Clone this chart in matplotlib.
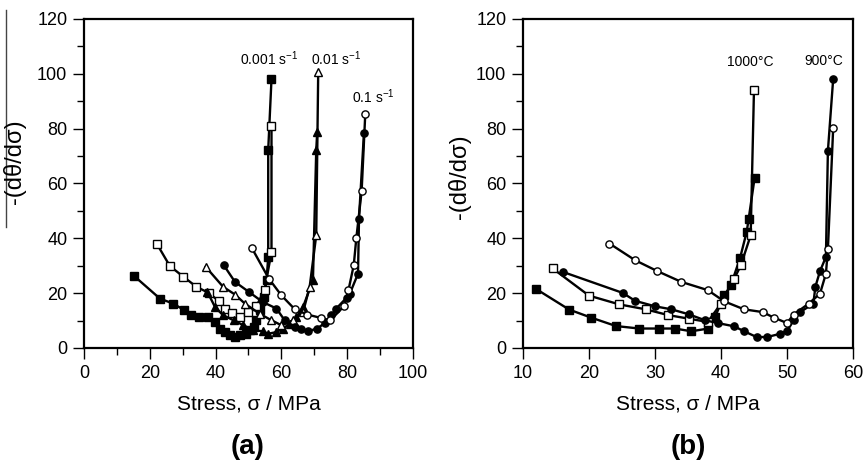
import numpy as np
import matplotlib
matplotlib.use("Agg")
import matplotlib.pyplot as plt
from matplotlib.lines import Line2D

plt.rcParams['font.family'] = ['Liberation Sans', 'DejaVu Sans']
plt.rcParams['mathtext.fontset'] = 'custom'
plt.rcParams['mathtext.rm'] = 'Liberation Sans'
plt.rcParams['mathtext.it'] = 'Liberation Sans:italic'

# ---- panel (a): strain rates ----
a_sq_fill_x = [15.3, 23.1, 27.1, 30.5, 32.5, 35.0, 37.8, 39.8, 41.3, 43.0, 44.3, 45.9, 47.4,
               49.1, 50.4, 51.6, 52.4, 53.4, 54.7, 55.5, 56.0, 56.0, 57.0]
a_sq_fill_y = [26.2, 18.0, 16.2, 13.8, 11.9, 11.3, 11.3, 9.5, 7.1, 5.8, 4.6, 4.0, 4.6,
               5.2, 6.5, 7.7, 10.1, 13.8, 18.6, 24.7, 33.2, 72.2, 98.1]
a_sq_open_x = [22.1, 26.1, 30.2, 34.2, 37.9, 41.1, 43.0, 45.1, 47.4, 49.9, 52.4, 54.9, 57.0, 57.0]
a_sq_open_y = [38.1, 29.9, 26.0, 22.3, 20.1, 17.0, 14.1, 12.9, 11.3, 13.1, 15.2, 21.3, 35.0, 81.0]

a_tri_open_x = [37.0, 42.3, 45.9, 48.9, 53.4, 56.7, 60.0, 63.6, 66.6, 68.6, 70.6, 71.2]
a_tri_open_y = [29.6, 22.3, 19.5, 16.2, 12.5, 10.3, 8.3, 10.1, 13.1, 22.3, 41.1, 100.8]
a_tri_fill_x = [37.5, 39.8, 42.3, 45.5, 48.4, 51.4, 54.3, 56.0, 58.5, 60.5, 62.6, 64.6,
                66.6, 69.6, 70.6, 70.9]
a_tri_fill_y = [20.5, 15.0, 11.9, 10.1, 8.3, 6.5, 6.1, 5.2, 5.8, 7.1, 8.9, 11.3,
                15.0, 24.7, 72.2, 78.9]

a_cir_fill_x = [42.5, 45.9, 50.2, 54.3, 58.5, 61.0, 64.1, 66.1, 68.1, 70.9, 73.2, 75.2,
                76.7, 79.8, 80.8, 83.3, 83.6, 85.1]
a_cir_fill_y = [30.2, 24.1, 20.4, 16.8, 14.4, 10.1, 7.7, 7.1, 6.1, 7.1, 9.1, 11.9,
                14.4, 18.3, 19.8, 27.1, 47.2, 78.3]
a_cir_open_x = [51.1, 56.2, 60.0, 64.1, 67.9, 71.9, 74.9, 79.0, 80.4, 82.0, 82.8, 84.4, 85.5]
a_cir_open_y = [36.3, 25.3, 19.2, 14.1, 12.2, 11.0, 10.1, 15.2, 21.1, 30.2, 40.2, 57.2, 85.2]

a_labels = ['0.001 s$^{-1}$', '0.01 s$^{-1}$', '0.1 s$^{-1}$']
a_label_x = [56.3, 76.7, 88.0]
a_label_y = [105.6, 105.6, 91.6]

# ---- panel (b): temperatures ----
b_sq_fill_x = [12.0, 17.0, 20.3, 24.1, 27.6, 30.6, 33.0, 35.5, 38.1, 39.1, 40.5, 41.5,
               42.9, 43.9, 44.2, 45.1]
b_sq_fill_y = [21.5, 14.0, 11.1, 8.0, 7.1, 7.1, 7.1, 6.1, 7.1, 11.3, 19.2, 22.9,
               32.9, 42.4, 47.2, 62.1]
b_sq_open_x = [14.5, 20.0, 24.6, 28.6, 32.0, 35.1, 38.0, 40.0, 42.0, 43.0, 44.5, 45.0]
b_sq_open_y = [29.0, 19.1, 15.9, 14.1, 12.0, 10.7, 9.5, 16.2, 25.2, 30.1, 41.1, 94.1]

b_cir_fill_x = [16.1, 25.1, 27.0, 30.0, 32.5, 35.1, 37.6, 39.5, 42.0, 43.5, 45.4, 47.0,
                49.0, 50.0, 51.0, 52.0, 54.0, 54.3, 55.0, 55.9, 56.2, 57.0]
b_cir_fill_y = [27.7, 20.1, 17.2, 15.2, 14.1, 12.3, 10.1, 9.1, 7.9, 6.1, 4.0, 4.0,
                5.2, 6.1, 10.1, 13.1, 16.2, 22.3, 28.0, 33.2, 71.9, 98.1]
b_cir_open_x = [23.1, 27.0, 30.3, 34.0, 38.0, 40.5, 43.5, 46.3, 48.0, 50.0, 51.0, 53.3,
                55.0, 55.9, 56.2, 57.0]
b_cir_open_y = [38.1, 32.0, 28.1, 24.1, 21.1, 17.0, 14.1, 13.1, 11.1, 9.1, 12.2, 16.2,
                19.8, 27.1, 36.0, 80.1]

b_labels = ['1000°C', '900°C']
b_label_x = [44.4, 55.6]
b_label_y = [104.4, 104.6]


def curve(ax, x, y, marker, filled):
    fc = 'black' if filled else 'white'
    ax.plot(x, y, color='black', lw=1.7, marker=marker, ms=5.2 if marker != '^' else 5.8,
            mfc=fc, mec='black', mew=1.0)


def style_axes(ax, xlim, xmajor, xminor):
    ax.set_xlim(xlim)
    ax.set_ylim(0, 120)
    ax.set_xticks(np.arange(xlim[0], xlim[1] + 0.1, xmajor))
    if xminor:
        ax.set_xticks(np.arange(xlim[0], xlim[1] + 0.1, xminor), minor=True)
    ax.set_yticks(np.arange(0, 121, 20))
    ax.set_yticks(np.arange(0, 121, 10), minor=True)
    for s in ax.spines.values():
        s.set_linewidth(1.6)
    ax.tick_params(which='both', direction='out', top=False, right=False,
                   labelsize=13, width=1.0, pad=4)
    ax.tick_params(which='major', length=8)
    ax.tick_params(which='minor', length=5)
    ax.set_xlabel('Stress, σ / MPa', fontsize=15, labelpad=9)


fig = plt.figure(figsize=(8.65, 4.63), dpi=100)
ax1 = fig.add_axes([0.0971, 0.2484, 0.3803, 0.7106])
ax2 = fig.add_axes([0.6046, 0.2484, 0.3815, 0.7106])

curve(ax1, a_sq_fill_x, a_sq_fill_y, 's', True)
curve(ax1, a_sq_open_x, a_sq_open_y, 's', False)
curve(ax1, a_tri_fill_x, a_tri_fill_y, '^', True)
curve(ax1, a_tri_open_x, a_tri_open_y, '^', False)
curve(ax1, a_cir_fill_x, a_cir_fill_y, 'o', True)
curve(ax1, a_cir_open_x, a_cir_open_y, 'o', False)
for t, x, y in zip(a_labels, a_label_x, a_label_y):
    ax1.text(x, y, t, fontsize=10, ha='center', va='center')
style_axes(ax1, (0, 100), 20, 10)

curve(ax2, b_sq_fill_x, b_sq_fill_y, 's', True)
curve(ax2, b_sq_open_x, b_sq_open_y, 's', False)
curve(ax2, b_cir_fill_x, b_cir_fill_y, 'o', True)
curve(ax2, b_cir_open_x, b_cir_open_y, 'o', False)
for t, x, y in zip(b_labels, b_label_x, b_label_y):
    ax2.text(x, y, t, fontsize=10, ha='center', va='center')
style_axes(ax2, (10, 60), 10, None)

# y labels placed by hand, (a) sits a bit higher and has a stray rule beside it
fig.text(15 / 865, 1 - 162 / 463, '-(dθ/dσ)', rotation=90, fontsize=17, ha='center', va='center')
fig.text(460 / 865, 1 - 177 / 463, '-(dθ/dσ)', rotation=90, fontsize=17, ha='center', va='center')
fig.add_artist(Line2D([6 / 865, 6 / 865], [1 - 10 / 463, 1 - 227 / 463], lw=1.0, color='#444444'))

fig.text(248 / 865, 1 - 447 / 463, '(a)', fontsize=20, fontweight='bold', ha='center', va='center')
fig.text(688 / 865, 1 - 447 / 463, '(b)', fontsize=20, fontweight='bold', ha='center', va='center')

fig.savefig('out.png', dpi=100)
